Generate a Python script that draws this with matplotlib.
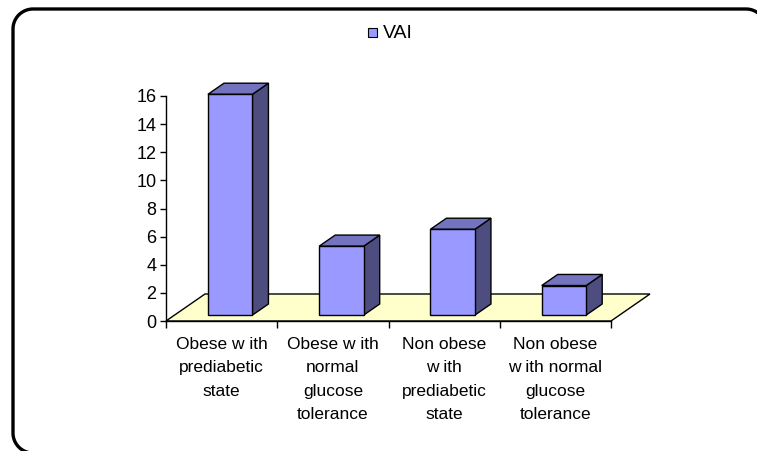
import numpy as np
import matplotlib
matplotlib.use("Agg")
import matplotlib.pyplot as plt
from matplotlib.patches import Polygon, Rectangle
from matplotlib.lines import Line2D
from matplotlib.transforms import IdentityTransform

categories = ["Obese w ith\nprediabetic\nstate",
              "Obese w ith\nnormal\nglucose\ntolerance",
              "Non obese\nw ith\nprediabetic\nstate",
              "Non obese\nw ith normal\nglucose\ntolerance"]
vai = [15.7, 4.9, 6.1, 2.1]
yticks = [0, 2, 4, 6, 8, 10, 12, 14, 16]
series_name = "VAI"

plt.rcParams['font.family'] = ['Liberation Sans', 'DejaVu Sans']

W, H = 757, 451
fig = plt.figure(figsize=(W / 100, H / 100), dpi=100)

# rounded border (open at bottom and right, which run off the canvas), pixel coords from top-left
R = 20
L, T, RT, BT = 13, 9, 766, 453
def arc(cx, cy, a0, a1, n=20):
    a = np.radians(np.linspace(a0, a1, n))
    return cx + R * np.cos(a), cy + R * np.sin(a)
ax_b, ay_b = arc(L + R, BT - R, 90, 180)        # bottom-left corner (screen coords, y down)
ax_t, ay_t = arc(L + R, T + R, 180, 270)        # top-left corner
ax_r, ay_r = arc(RT - R, T + R, 270, 360)       # top-right corner
bx = np.concatenate([ax_b, ax_t, ax_r])
by = np.concatenate([ay_b, ay_t, ay_r])
fig.add_artist(Line2D(bx, H - by, transform=IdentityTransform(), color="black",
                      linewidth=2.4, solid_joinstyle="round"))

x0, x1 = 166, 611
y0, y1 = 321, 96
ax = fig.add_axes([x0 / W, 1 - y0 / H, (x1 - x0) / W, (y0 - y1) / H])
ax.set_xlim(0, 4)
ax.set_ylim(0, 16)
ax.patch.set_visible(False)
for s in ["top", "right"]:
    ax.spines[s].set_visible(False)
ax.spines["left"].set_linewidth(1.0)
ax.spines["bottom"].set_linewidth(1.0)

# depth offsets in data units
fdx, fdy = 39 / 111.25, 27 / 14.06     # floor depth
d_front, d_back = 0.22, 0.63           # bar front/back as fraction of floor depth

floor = Polygon([(0, 0), (4, 0), (4 + fdx, fdy), (fdx, fdy)], closed=True,
                facecolor="#FFFFCC", edgecolor="black", linewidth=1.0,
                clip_on=False, zorder=1)
ax.add_patch(floor)

front_c, top_c, side_c = "#9999FF", "#7373BF", "#4D4D80"
bw = 0.40
for i, v in enumerate(vai):
    cx = i + 0.5
    sx, sy = d_front * fdx, d_front * fdy
    bxo, byo = (d_back - d_front) * fdx, (d_back - d_front) * fdy
    l = cx - bw / 2 + sx
    r = cx + bw / 2 + sx
    b = sy
    t = sy + v
    front = Polygon([(l, b), (r, b), (r, t), (l, t)], closed=True,
                    facecolor=front_c, edgecolor="black", linewidth=1.0,
                    clip_on=False, zorder=3, joinstyle="miter")
    side = Polygon([(r, b), (r + bxo, b + byo), (r + bxo, t + byo), (r, t)], closed=True,
                   facecolor=side_c, edgecolor="black", linewidth=1.0,
                   clip_on=False, zorder=3, joinstyle="miter")
    top = Polygon([(l, t), (r, t), (r + bxo, t + byo), (l + bxo, t + byo)], closed=True,
                  facecolor=top_c, edgecolor="black", linewidth=1.0,
                  clip_on=False, zorder=3, joinstyle="miter")
    for p in (side, top, front):
        ax.add_patch(p)

fs = 12.5
ax.set_yticks(yticks)
ax.set_yticklabels([str(t) for t in yticks], fontsize=13)
ax.tick_params(axis="y", direction="out", length=4, width=1.0, pad=3)

ax.set_xticks([0, 1, 2, 3, 4])
ax.set_xticklabels([])
ax.tick_params(axis="x", which="major", direction="out", length=5, width=1.0)
ax.set_xticks([0.5, 1.5, 2.5, 3.5], minor=True)
ax.set_xticklabels(categories, minor=True, fontsize=fs, linespacing=1.70,
                   va="top", ha="center")
ax.tick_params(axis="x", which="minor", length=0, pad=11.5)

# legend
fig.patches.append(Rectangle((368 / W, 1 - 37 / H), 9 / W, 9 / H,
                             transform=fig.transFigure, facecolor=front_c,
                             edgecolor="black", linewidth=0.8))
fig.text(383 / W, 1 - 33 / H, series_name, fontsize=14, va="center", ha="left")

fig.savefig("out.png", dpi=100)
